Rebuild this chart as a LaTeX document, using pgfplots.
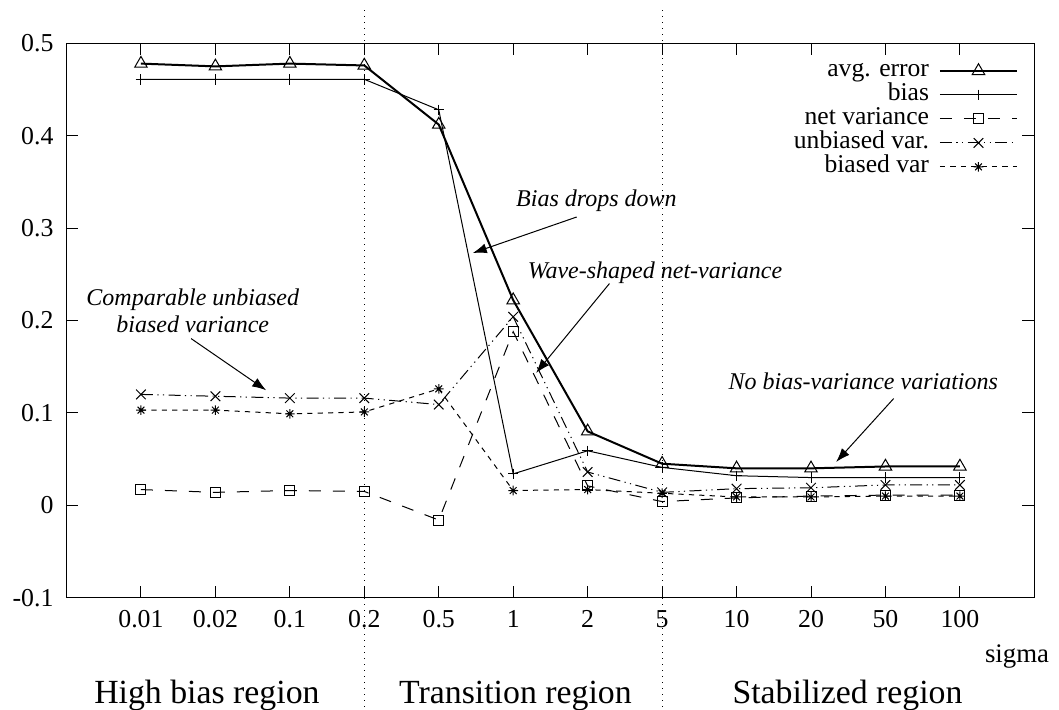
\documentclass[border=0pt]{standalone}
\usepackage{fontspec}
\setmainfont{Liberation Serif}
\usepackage{pgfplots}
\pgfplotsset{compat=1.18}
\usetikzlibrary{arrows.meta}

% gnuplot-style asterisk: a plus laid over a cross
\pgfdeclareplotmark{gpstar}{%
  \pgfpathmoveto{\pgfqpoint{-\pgfplotmarksize}{0pt}}%
  \pgfpathlineto{\pgfqpoint{\pgfplotmarksize}{0pt}}%
  \pgfpathmoveto{\pgfqpoint{0pt}{-\pgfplotmarksize}}%
  \pgfpathlineto{\pgfqpoint{0pt}{\pgfplotmarksize}}%
  \pgfpathmoveto{\pgfqpoint{-.7071\pgfplotmarksize}{-.7071\pgfplotmarksize}}%
  \pgfpathlineto{\pgfqpoint{.7071\pgfplotmarksize}{.7071\pgfplotmarksize}}%
  \pgfpathmoveto{\pgfqpoint{-.7071\pgfplotmarksize}{.7071\pgfplotmarksize}}%
  \pgfpathlineto{\pgfqpoint{.7071\pgfplotmarksize}{-.7071\pgfplotmarksize}}%
  \pgfusepathqstroke}

\tikzset{
  annot/.style={font=\fontsize{12}{13.8}\selectfont\itshape, inner sep=0pt},
  pointer/.style={line width=0.5pt, -{Latex[length=7pt,width=5pt]}},
  region/.style={anchor=base, font=\fontsize{16.9}{18}\selectfont, inner sep=0pt},
}

\begin{document}
\begin{tikzpicture}
\begin{axis}[
  x=37.225pt, y=462pt,
  xmin=0, xmax=13, ymin=-0.1, ymax=0.5,
  clip=false,
  axis line style={line width=0.5pt},
  tick align=inside,
  major tick length=6pt,
  tick style={line width=0.5pt, black},
  xtick={1,2,3,4,5,6,7,8,9,10,11,12},
  xticklabels={0.01,0.02,0.1,0.2,0.5,1,2,5,10,20,50,100},
  ytick={-0.1,0,0.1,0.2,0.3,0.4,0.5},
  yticklabels={-0.1,0,0.1,0.2,0.3,0.4,0.5},
  xticklabel style={font=\fontsize{12.9}{14}\selectfont, yshift=-3pt},
  yticklabel style={font=\fontsize{12.9}{14}\selectfont, xshift=-3pt},
  legend plot pos=right,
  legend cell align=right,
  legend image code/.code={\draw[mark repeat=2,mark phase=2,#1]
      plot coordinates {(0pt,0pt) (19.25pt,0pt) (38.5pt,0pt)};},
  legend style={at={(0.9835,0.9725)}, anchor=north east, draw=none, fill=none,
    inner sep=0pt, row sep=0pt, column sep=5pt,
    font=\fontsize{12.8}{14}\selectfont,
    nodes={inner sep=0pt, text height=9pt, text depth=3pt}},
]

% region boundaries
\draw[line width=0.5pt, dash pattern=on 0.6pt off 2.4pt] (axis cs:4,0.5357) -- (axis cs:4,-0.222);
\draw[line width=0.5pt, dash pattern=on 0.6pt off 2.4pt] (axis cs:8,0.5357) -- (axis cs:8,-0.222);

\addplot[black, line width=1pt, mark=triangle, mark size=3.6pt,
  mark options={solid, line width=0.5pt}] coordinates {
  (1,0.478) (2,0.475) (3,0.478) (4,0.476) (5,0.412) (6,0.222)
  (7,0.080) (8,0.045) (9,0.040) (10,0.040) (11,0.042) (12,0.042)};
\addlegendentry{avg. error}

\addplot[black, line width=0.5pt, mark=+, mark size=2.6pt,
  mark options={solid}] coordinates {
  (1,0.461) (2,0.461) (3,0.461) (4,0.461) (5,0.428) (6,0.034)
  (7,0.059) (8,0.041) (9,0.032) (10,0.030) (11,0.030) (12,0.030)};
\addlegendentry{bias}

\addplot[black, line width=0.5pt, dash pattern=on 6pt off 6pt,
  mark=square, mark size=2.5pt, mark options={solid}] coordinates {
  (1,0.017) (2,0.014) (3,0.016) (4,0.015) (5,-0.016) (6,0.188)
  (7,0.021) (8,0.004) (9,0.008) (10,0.010) (11,0.011) (12,0.011)};
\addlegendentry{net variance}

\addplot[black, line width=0.5pt,
  dash pattern=on 6pt off 2.2pt on 0.6pt off 2.2pt on 0.6pt off 2.2pt,
  mark=x, mark size=3.4pt, mark options={solid}] coordinates {
  (1,0.120) (2,0.118) (3,0.116) (4,0.116) (5,0.109) (6,0.204)
  (7,0.036) (8,0.014) (9,0.018) (10,0.019) (11,0.022) (12,0.022)};
\addlegendentry{unbiased var.}

\addplot[black, line width=0.5pt, dash pattern=on 2.6pt off 2.6pt,
  mark=gpstar, mark size=2.4pt, mark options={solid}] coordinates {
  (1,0.103) (2,0.103) (3,0.099) (4,0.101) (5,0.126) (6,0.016)
  (7,0.017) (8,0.013) (9,0.009) (10,0.009) (11,0.010) (12,0.010)};
\addlegendentry{biased var}

% annotations
\node[annot] at (axis cs:7.118,0.330) {Bias drops down};
\draw[pointer] (axis cs:6.853,0.312) -- (axis cs:5.457,0.273);

\node[annot] at (axis cs:7.904,0.2514) {Wave-shaped net-variance};
\draw[pointer] (axis cs:7.293,0.240) -- (axis cs:6.308,0.1432);

\node[annot, align=center] at (axis cs:1.696,0.2105) {Comparable unbiased\\biased variance};
\draw[pointer] (axis cs:1.674,0.1804) -- (axis cs:2.682,0.1245);

\node[annot] at (axis cs:10.702,0.1345) {No bias-variance variations};
\draw[pointer] (axis cs:11.11,0.1155) -- (axis cs:10.338,0.0469);

% axis name and regions
\node[anchor=base east, inner sep=0pt, font=\fontsize{13.4}{15}\selectfont]
  at (axis cs:13.203,-0.1696) {sigma};
\node[region] at (axis cs:1.886,-0.2143) {High bias region};
\node[region] at (axis cs:6.03,-0.2143) {Transition region};
\node[region] at (axis cs:10.49,-0.2143) {Stabilized region};
\end{axis}
\pgfresetboundingbox
\useasboundingbox (-33.25pt,-56.15pt) rectangle (496.25pt,298.85pt);
\end{tikzpicture}
\end{document}
